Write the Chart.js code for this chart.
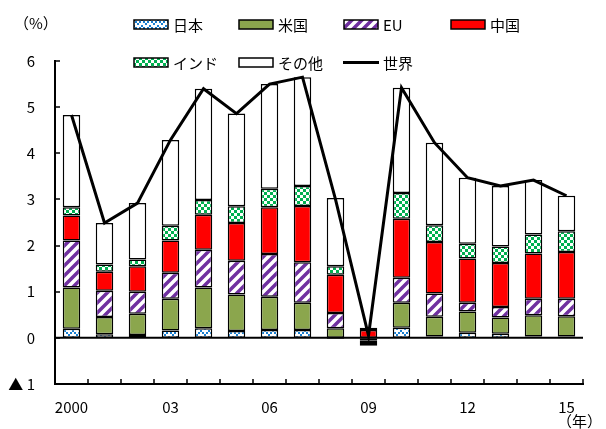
<!DOCTYPE html>
<html>
<head>
<meta charset="utf-8">
<script src="https://cdn.jsdelivr.net/npm/chart.js@4.4.1/dist/chart.umd.min.js"></script>
<style>
  html, body { margin: 0; padding: 0; background: #fff; }
  #wrap { position: relative; width: 606px; height: 429px; font-family: "Noto Sans CJK JP", "Liberation Sans", sans-serif; }
  #chart { position: absolute; left: 0; top: 0; }
  .lg { position: absolute; display: flex; align-items: center; font-size: 15px; color: #000; white-space: nowrap; }
  .lg canvas { margin-right: 4px; }
  .txt { position: absolute; font-size: 15px; color: #000; }
</style>
</head>
<body>
<div id="wrap">
  <canvas id="chart" width="606" height="429"></canvas>
  <div class="txt" style="left:14px; top:12px;">（%）</div>
  <div class="txt" style="left:557px; top:410px;">（年）</div>
</div>
<script>
// contributions to world growth, percentage points
const years = ["2000", "01", "02", "03", "04", "05", "06", "07", "08", "09", "10", "11", "12", "13", "14", "15"];
const japan = [0.20, 0.08, 0.06, 0.16, 0.21, 0.15, 0.17, 0.17, -0.02, -0.01, 0.22, 0.03, 0.11, 0.09, 0.03, 0.03];
const us    = [0.89, 0.37, 0.46, 0.69, 0.88, 0.79, 0.72, 0.59, 0.21, -0.05, 0.54, 0.43, 0.46, 0.35, 0.46, 0.44];
const eu    = [1.02, 0.57, 0.48, 0.56, 0.82, 0.73, 0.93, 0.88, 0.33, -0.05, 0.54, 0.50, 0.19, 0.23, 0.36, 0.38];
const china = [0.54, 0.41, 0.55, 0.70, 0.76, 0.82, 1.01, 1.22, 0.83, 0.17, 1.28, 1.12, 0.96, 0.95, 0.98, 1.01];
const india = [0.18, 0.16, 0.15, 0.32, 0.32, 0.36, 0.40, 0.43, 0.18, 0.05, 0.56, 0.36, 0.32, 0.36, 0.41, 0.45];
const other = [2.00, 0.90, 1.22, 1.86, 2.41, 2.01, 2.27, 2.36, 1.48, -0.06, 2.28, 1.79, 1.43, 1.31, 1.18, 0.77];
const world = [4.83, 2.49, 2.92, 4.29, 5.40, 4.86, 5.50, 5.65, 3.00, 0.05, 5.42, 4.23, 3.47, 3.29, 3.42, 3.08];
const yTicks = [-1, 0, 1, 2, 3, 4, 5, 6];
const shownYears = ["2000", "03", "06", "09", "12", "15"];

function makePattern(w, h, draw) {
  const c = document.createElement("canvas");
  c.width = w; c.height = h;
  const g = c.getContext("2d");
  g.fillStyle = "#fff";
  g.fillRect(0, 0, w, h);
  draw(g);
  return c;
}

const ctxMain = document.getElementById("chart").getContext("2d");

const jpTile = makePattern(8, 6, (g) => {
  g.fillStyle = "#1a7fd0";
  g.fillRect(0, 0, 2, 2);
  g.fillRect(2, 2, 2, 2);
  g.fillRect(4, 4, 2, 2);
  g.fillRect(6, 2, 2, 2);
});
const euTile = makePattern(10, 10, (g) => {
  g.strokeStyle = "#7030a0";
  g.lineWidth = 3.5;
  g.beginPath();
  g.moveTo(-2, 12); g.lineTo(12, -2);
  g.moveTo(-7, 7); g.lineTo(7, -7);
  g.moveTo(3, 17); g.lineTo(17, 3);
  g.stroke();
});
const inTile = makePattern(6, 6, (g) => {
  g.fillStyle = "#00b050";
  g.fillRect(0, 0, 3, 3);
  g.fillRect(3, 3, 3, 3);
});

const series = [
  { label: "日本", data: japan, fill: ctxMain.createPattern(jpTile, "repeat"), tile: jpTile },
  { label: "米国", data: us, fill: "#8ba64d" },
  { label: "EU", data: eu, fill: ctxMain.createPattern(euTile, "repeat"), tile: euTile },
  { label: "中国", data: china, fill: "#ff0000" },
  { label: "インド", data: india, fill: ctxMain.createPattern(inTile, "repeat"), tile: inTile },
  { label: "その他", data: other, fill: "#ffffff" },
];

// inward tick marks and the zero line, drawn by hand like the original
const axisMarks = {
  id: "axisMarks",
  beforeDatasetsDraw(chart) {
    const { ctx, chartArea, scales } = chart;
    const y0 = scales.y.getPixelForValue(0);
    ctx.save();
    ctx.strokeStyle = "#000";
    ctx.lineWidth = 2;
    ctx.beginPath();
    ctx.moveTo(chartArea.left, y0);
    ctx.lineTo(chartArea.right, y0);
    ctx.stroke();
    ctx.restore();
  },
  afterDraw(chart) {
    const { ctx, chartArea, scales } = chart;
    ctx.save();
    ctx.strokeStyle = "#000";
    ctx.lineWidth = 1.5;
    ctx.beginPath();
    yTicks.forEach((v) => {
      const py = Math.round(scales.y.getPixelForValue(v));
      ctx.moveTo(chartArea.left, py);
      ctx.lineTo(chartArea.left + 5, py);
    });
    const step = (chartArea.right - chartArea.left) / years.length;
    for (let i = 1; i <= years.length; i++) {
      const px = Math.round(chartArea.left + i * step);
      ctx.moveTo(px, chartArea.bottom);
      ctx.lineTo(px, chartArea.bottom - 5);
    }
    ctx.stroke();
    ctx.restore();
  },
};

const tickFont = { family: '"Noto Sans CJK JP", "Liberation Sans", sans-serif', size: 15 };

new Chart(ctxMain, {
  data: {
    labels: years,
    datasets: [
      {
        type: "line",
        label: "世界",
        data: world,
        borderColor: "#000",
        borderWidth: 3,
        pointRadius: 0,
        tension: 0,
        stack: "line",
        order: 0,
      },
      ...series.map((s) => ({
        type: "bar",
        label: s.label,
        data: s.data,
        backgroundColor: s.fill,
        borderColor: "#000",
        borderWidth: 1.5,
        borderSkipped: false,
        barPercentage: 0.53,
        categoryPercentage: 1,
        stack: "bars",
        order: 1,
      })),
    ],
  },
  options: {
    responsive: false,
    animation: false,
    layout: { padding: { left: 0, right: 23, top: 61, bottom: 0 } },
    plugins: { legend: { display: false }, tooltip: { enabled: false } },
    scales: {
      x: {
        stacked: true,
        offset: true,
        grid: { display: false },
        border: { display: true, color: "#000", width: 2 },
        ticks: {
          color: "#000",
          font: tickFont,
          padding: 6,
          maxRotation: 0,
          autoSkip: false,
          callback: (v, i) => (shownYears.includes(years[i]) ? years[i] : ""),
        },
        afterFit: (s) => { s.height = 45; },
      },
      y: {
        stacked: true,
        min: -1,
        max: 6,
        grid: { display: false },
        border: { display: true, color: "#000", width: 2 },
        ticks: {
          stepSize: 1,
          color: "#000",
          font: tickFont,
          padding: 12,
          callback: (v) => (v < 0 ? "▲ " + Math.abs(v) : String(v)),
        },
        afterFit: (s) => { s.width = 55; },
      },
    },
  },
  plugins: [axisMarks],
});

// legend in the original's grid layout
const legendSlots = [
  [133, 25], [238, 25], [343, 25], [450, 25],
  [133, 63], [238, 63], [343, 63],
];
const wrap = document.getElementById("wrap");
const legendItems = series.map((s) => ({ label: s.label, fill: s.fill, tile: s.tile, line: false }));
legendItems.push({ label: "世界", line: true });
legendItems.forEach((it, i) => {
  const el = document.createElement("div");
  el.className = "lg";
  el.style.left = legendSlots[i][0] + "px";
  el.style.top = (legendSlots[i][1] - 11) + "px";
  const sw = document.createElement("canvas");
  sw.width = 36; sw.height = 11;
  const g = sw.getContext("2d");
  if (it.line) {
    g.fillStyle = "#000";
    g.fillRect(0, 4, 36, 3);
  } else {
    g.fillStyle = it.tile ? g.createPattern(it.tile, "repeat") : it.fill;
    g.fillRect(1, 1, 34, 9);
    g.strokeStyle = "#000";
    g.lineWidth = 1.5;
    g.strokeRect(1, 1, 34, 9);
  }
  el.appendChild(sw);
  const t = document.createElement("span");
  t.textContent = it.label;
  el.appendChild(t);
  wrap.appendChild(el);
});
</script>
</body>
</html>
